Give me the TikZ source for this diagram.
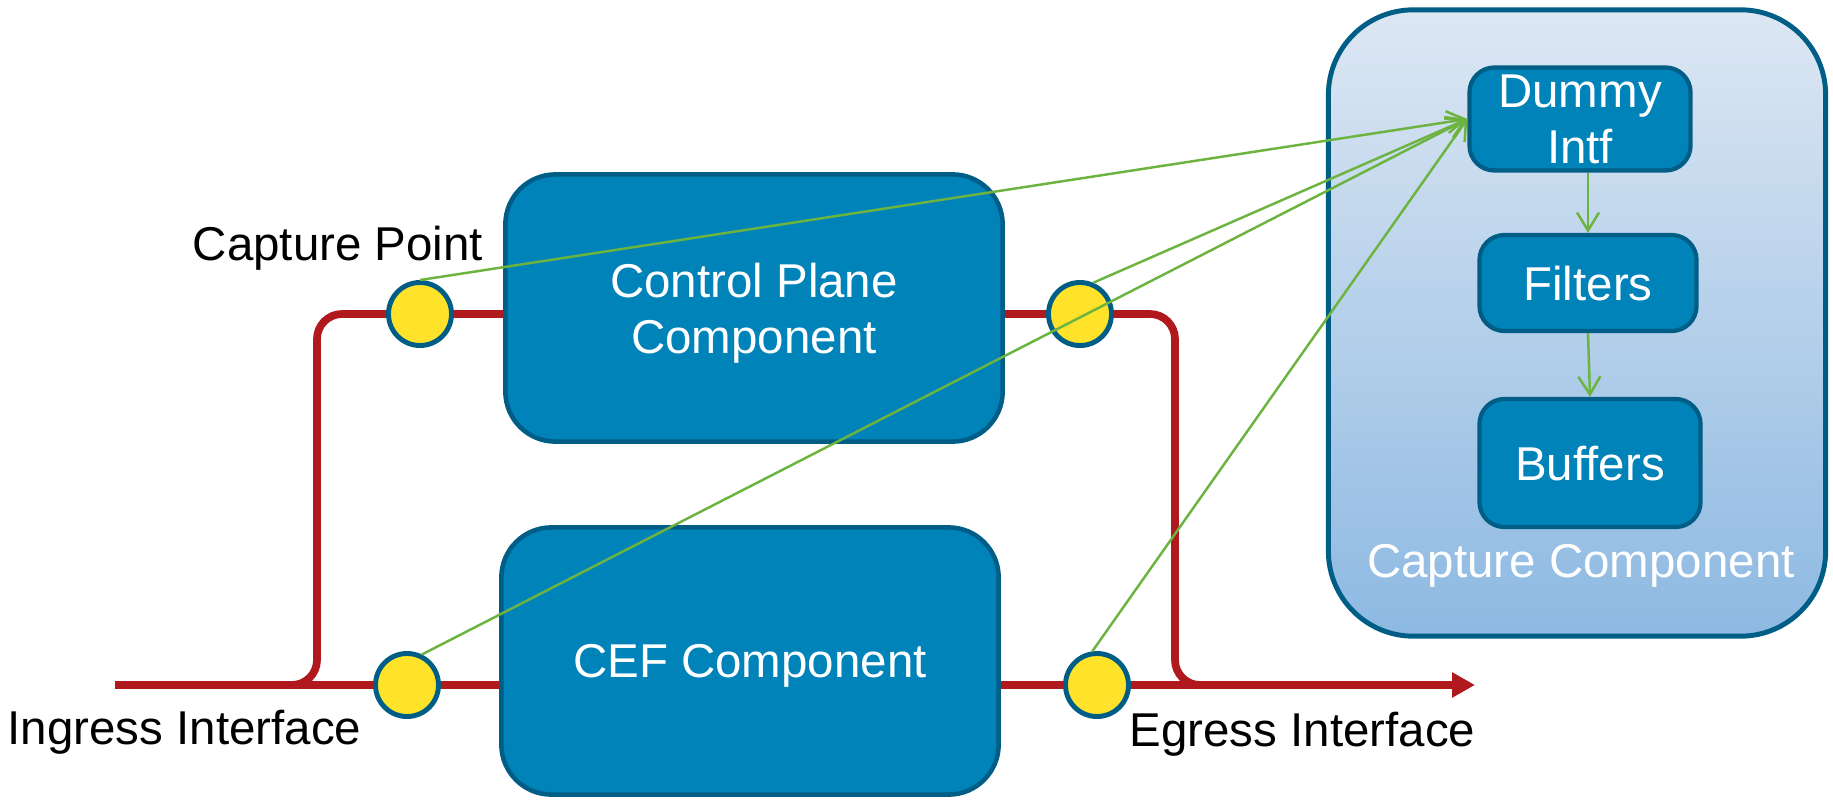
\documentclass[tikz,border=0pt]{standalone}
\usepackage{fontspec}
\setmainfont{Liberation Sans}
\definecolor{cRed}{HTML}{B0191D}
\definecolor{cBlue}{HTML}{0083B9}
\definecolor{cBlueDark}{HTML}{005E86}
\definecolor{cYellow}{HTML}{FFE22A}
\definecolor{cGreen}{HTML}{6DB33F}
\definecolor{cSkyTop}{HTML}{DDE7F3}
\definecolor{cSkyBot}{HTML}{8DB9E2}
\usetikzlibrary{shapes,arrows.meta}
\usetikzlibrary{calc,backgrounds}

\begin{document}
\begin{tikzpicture}[x=0.01cm, y=-0.01cm, font=\fontsize{13.5}{15.9}\selectfont,
		comp/.style={draw=cBlueDark, line width=1.3pt, fill=cBlue, rounded corners=0.5cm, text=white, align=center, text depth=0pt, minimum width=4.97cm, minimum height=2.67cm},
		part/.style={draw=cBlueDark, line width=1.2pt, fill=cBlue, rounded corners=0.25cm, text=white, align=center, text depth=0pt, inner sep=0pt, minimum width=2.21cm},
		cpoint/.style={circle, draw=cBlueDark, line width=1.4pt, fill=cYellow, minimum size=0.63cm, inner sep=0pt},
		lbl/.style={inner sep=0pt},
		wire/.style={cRed, line width=2.2pt},
		tap/.style={cGreen, line width=0.7pt, -{Straight Barb[length=1.8mm, width=2.2mm]}}]
			\useasboundingbox (0,0) rectangle (1833,800);
			\node[draw=cBlueDark, line width=1.4pt, top color=cSkyTop, bottom color=cSkyBot, rounded corners=0.85cm, minimum width=4.97cm, minimum height=6.26cm] (capt) at (1577,323) {};
			\node[part, minimum height=1.03cm] (dummy) at (1580,119) {Dummy\\Intf};
			\node[part, minimum width=2.17cm, minimum height=0.96cm] (filters) at (1588,283) {Filters};
			\node[part, minimum height=1.28cm] (buffers) at (1590,463) {Buffers};
			\node[lbl, anchor=base, text=white] (capttxt) at (1581,577) {Capture Component};
			\node[comp] (ctrl) at (754,308) {Control Plane\\Component};
			\node[comp] (cef) at (750,661) {CEF Component};
			\node[cpoint] (cp1) at (420,314) {};
			\node[cpoint] (cp2) at (1080,314) {};
			\node[cpoint] (cp3) at (407,685) {};
			\node[cpoint] (cp4) at (1097,685) {};
			\node[lbl, anchor=base] (cptxt) at (338,260) {Capture Point};
			\node[lbl, anchor=base west] (ingtxt) at (7,744) {Ingress Interface};
			\node[lbl, anchor=base west] (egrtxt) at (1129,746) {Egress Interface};
			\coordinate (ingress) at (115,685);
			\coordinate (egress) at (1475,685);
			\coordinate (bendL) at (317,685);
			\coordinate (bendR) at (1175,685);
			\begin{scope}[on background layer]
				\draw [wire, -{Triangle[length=2.3mm, width=2.4mm]}] (ingress) -- (egress);
				\draw [wire, rounded corners=0.25cm] ($(bendL)+(-25,0)$) -- (bendL) |- (cp1.center) -- (cp2.center) -| (bendR) -- ($(bendR)+(25,0)$);
			\end{scope}
			\draw [tap] (cp1.north) -- (dummy.west);
			\draw [tap] (cp2.67) -- (dummy.west);
			\draw [tap] (cp3.64) -- (dummy.west);
			\draw [tap] (cp4.98) -- (dummy.west);
			\draw [tap] (dummy.south -| filters.north) -- (filters.north);
			\draw [tap] (filters.south) -- (buffers.north);
		\end{tikzpicture}
\end{document}
